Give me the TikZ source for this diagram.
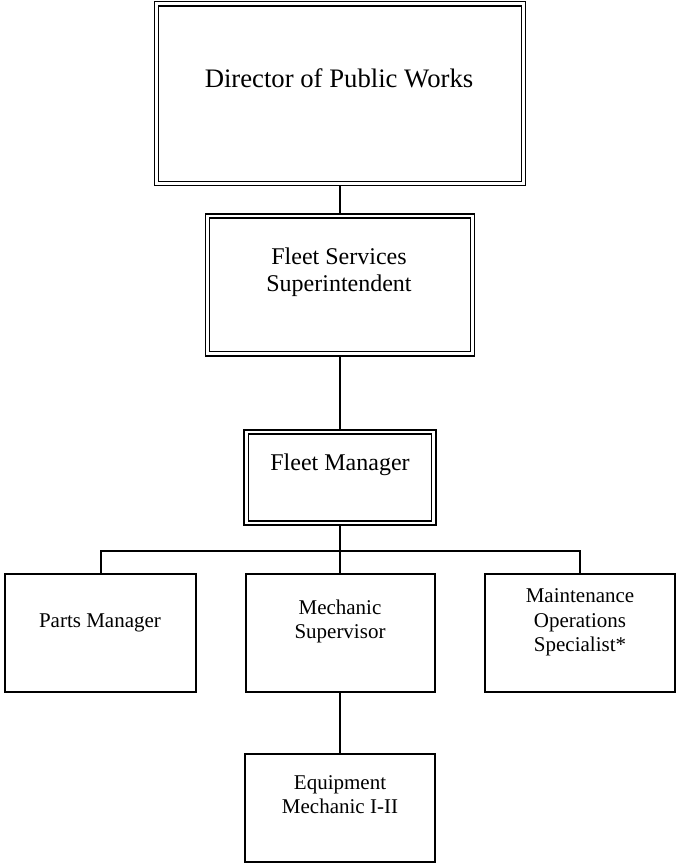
\documentclass[tikz,border=0pt]{standalone}
\usepackage{fontspec}
\setmainfont{Liberation Serif}
\begin{document}
\begin{tikzpicture}[x=1pt,y=-1pt,
		dblbox/.style={draw,double,line width=1.6pt,double distance=2.6pt,inner sep=0pt,outer sep=2.9pt},
		sglbox/.style={draw,line width=2pt,inner sep=0pt,outer sep=0pt},
		conn/.style={line width=2pt},
		hugetxt/.style={font=\fontsize{26.7}{30.7}\selectfont,anchor=base,inner sep=0pt},
		bigtxt/.style={font=\fontsize{24}{27.6}\selectfont,align=center,anchor=base,inner sep=0pt},
		smalltxt/.style={font=\fontsize{21}{24.3}\selectfont,align=center,anchor=base,inner sep=0pt}]
			\useasboundingbox (0,0) rectangle (678,863);
			% boxes
			\node[dblbox,minimum width=367pt,minimum height=179.8pt] (dir) at (340,93.6) {};
			\node[dblbox,minimum width=265pt,minimum height=137.7pt] (fss) at (340,284.9) {};
			\node[dblbox,minimum width=187.4pt,minimum height=91pt] (fm) at (340,477.5) {};
			\node[sglbox,minimum width=191pt,minimum height=118pt] (pm) at (100.5,633.3) {};
			\node[sglbox,minimum width=189pt,minimum height=118pt] (ms) at (340,633.3) {};
			\node[sglbox,minimum width=189.6pt,minimum height=118pt] (mos) at (580,633.3) {};
			\node[sglbox,minimum width=190.7pt,minimum height=107.4pt] (em) at (340,808) {};
			% texts (base = last line)
			\node[hugetxt] (dirtxt) at (339,87) {Director of Public Works};
			\node[bigtxt] (fsstxt) at (339,291.6) {Fleet Services\\Superintendent};
			\node[bigtxt] (fmtxt) at (340,470.5) {Fleet Manager};
			\node[smalltxt] (pmtxt) at (100,627.3) {Parts Manager};
			\node[smalltxt] (mstxt) at (340,638.6) {Mechanic\\Supervisor};
			\node[smalltxt] (mostxt) at (580,651.3) {Maintenance\\Operations\\Specialist*};
			\node[smalltxt] (emtxt) at (340,813.6) {Equipment\\Mechanic I-II};
			% lines
			\coordinate (bus) at (340,551);
			\draw[conn] (dir.south) -- (fss.north);
			\draw[conn] (fss.south) -- (fm.north);
			\draw[conn] (fm.south) -- (ms.north);
			\draw[conn] (pm.north) -- (pm.north |- bus) -- (mos.north |- bus) -- (mos.north);
			\draw[conn] (ms.south) -- (em.north);
		\end{tikzpicture}
\end{document}
